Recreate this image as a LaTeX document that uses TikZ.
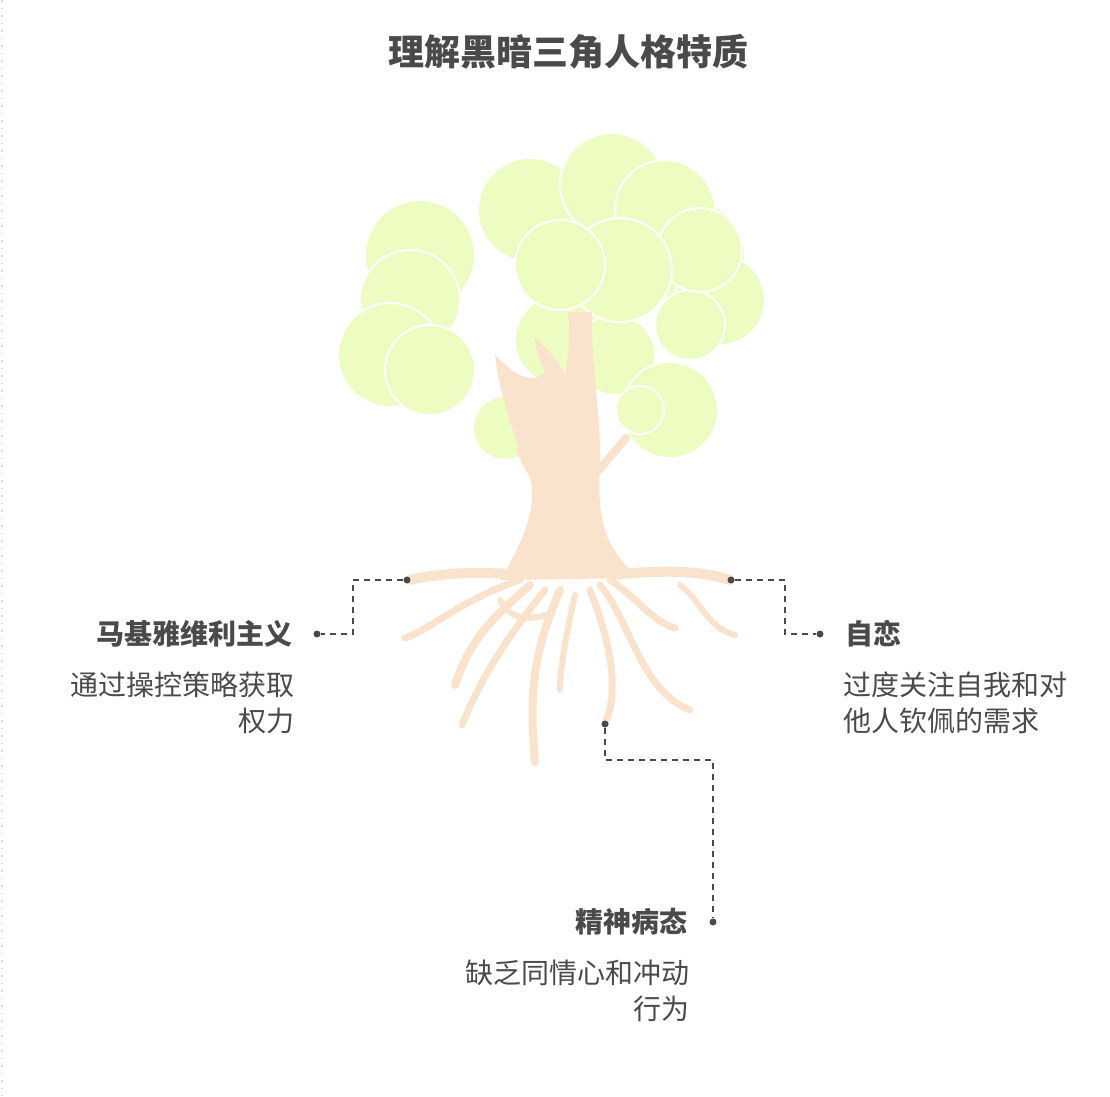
\documentclass[tikz,border=0pt]{standalone}
\usepackage{fontspec}
\setmainfont{Noto Sans CJK SC}
\usetikzlibrary{positioning}
\definecolor{leaf}{HTML}{EDFCC0}
\definecolor{bark}{HTML}{FAE3CC}
\definecolor{ink}{HTML}{4A4A4A}
\tikzset{
  blob/.style={fill=leaf, draw=white, line width=2pt},
  root/.style={draw=bark, line cap=round, line join=round},
  link/.style={draw=ink, line width=2pt, dash pattern=on 6pt off 5pt},
  dot/.style={circle, fill=ink, inner sep=0pt, minimum size=7pt},
  head/.style={font=\bfseries\fontsize{28}{32}\selectfont, text=ink},
  desc/.style={font=\fontsize{28}{36}\selectfont, text=ink, align=right}
}
\begin{document}
\begin{tikzpicture}[x=1pt, y=-1pt]
	\useasboundingbox (0,0) rectangle (1110,1096);
	\draw[gray!30, line width=1.5pt, dash pattern=on 1.5pt off 6pt] (2,0) -- (2,1096);
	\node[font=\bfseries\fontsize{36}{40}\selectfont, text=ink] (title) at (568,52) {理解黑暗三角人格特质};
	
	% crown
	\foreach \x/\y/\r in {420/255/55, 410/300/50, 390/355/52, 430/370/45, 690/255/55, 720/300/45, 690/325/35,
		560/340/45, 615/355/40, 530/210/52, 612/185/52, 665/210/50, 700/250/42, 620/270/52, 560/265/45}
		\fill[blob] (\x,\y) circle (\r);
	\fill[blob] (670,410) circle (48);
	\fill[blob] (640,410) circle (24);
	\fill[blob] (505,428) circle (32);
	
	% trunk
	\fill[bark] (500,580) .. controls (525,540) and (540,500) .. (528,472)
		.. controls (518,445) and (500,400) .. (495,355)
		.. controls (515,375) and (530,385) .. (545,372)
		.. controls (540,360) and (535,350) .. (535,338)
		.. controls (552,352) and (560,365) .. (565,375)
		.. controls (570,350) and (570,330) .. (568,312)
		-- (592,312) .. controls (590,360) and (602,420) .. (600,470)
		.. controls (597,520) and (605,550) .. (640,578) -- cycle;
	\draw[root, line width=8pt] (530,470) -- (520,450);
	\draw[root, line width=8pt] (599,470) -- (626,438);
	
	% roots
	\draw[root, line width=10pt] (520,575) .. controls (470,570) and (430,575) .. (410,580);
	\draw[root, line width=7pt] (520,580) .. controls (460,600) and (430,630) .. (405,638);
	\draw[root, line width=8pt] (530,585) .. controls (490,620) and (470,640) .. (455,685);
	\draw[root, line width=7pt] (545,590) .. controls (505,640) and (480,680) .. (462,725);
	\draw[root, line width=8pt] (560,590) .. controls (530,660) and (530,700) .. (535,762);
	\draw[root, line width=6pt] (575,595) .. controls (565,640) and (560,670) .. (560,690);
	\draw[root, line width=7pt] (590,590) .. controls (610,640) and (620,690) .. (605,724);
	\draw[root, line width=7pt] (600,585) .. controls (630,620) and (640,690) .. (690,710);
	\draw[root, line width=7pt] (610,580) .. controls (640,600) and (650,620) .. (675,628);
	\draw[root, line width=10pt] (610,575) .. controls (660,570) and (700,570) .. (730,580);
	\draw[root, line width=6pt] (680,585) .. controls (700,600) and (710,630) .. (735,635);
	\draw[root, line width=6pt] (500,600) .. controls (510,620) and (530,620) .. (545,615);
	
	% connectors
	\node[dot] (m0) at (407,580) {};
	\node[dot] (m1) at (317,634) {};
	\node[dot] (n0) at (731,580) {};
	\node[dot] (n1) at (820,634) {};
	\node[dot] (p0) at (605,724) {};
	\node[dot] (p1) at (713,922) {};
	\draw[link] (m0) -| (353,607) |- (m1);
	\draw[link] (n0) -| (785,607) |- (n1);
	\draw[link] (p0) |- (659,760) -| (p1);
	
	% labels
	\node[head, anchor=east] (mach) at (296,634) {马基雅维利主义};
	\node[desc, anchor=north east] (machd) at (298,668) {通过操控策略获取\\权力};
	\node[head, anchor=west] (narc) at (842,634) {自恋};
	\node[desc, anchor=north west, align=left] (narcd) at (840,668) {过度关注自我和对\\他人钦佩的需求};
	\node[head, anchor=east] (psych) at (691,922) {精神病态};
	\node[desc, anchor=north east] (psychd) at (693,956) {缺乏同情心和冲动\\行为};
\end{tikzpicture}
\end{document}
